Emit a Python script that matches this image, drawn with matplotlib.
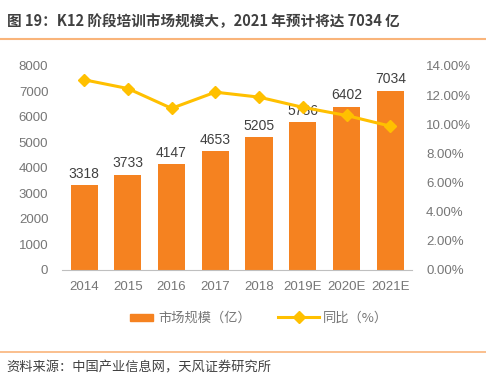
import matplotlib
matplotlib.use("Agg")
import matplotlib.pyplot as plt
from matplotlib.lines import Line2D

plt.rcParams['font.family'] = ['Liberation Sans', 'Noto Sans CJK SC', 'DejaVu Sans']

years = ["2014", "2015", "2016", "2017", "2018", "2019E", "2020E", "2021E"]
market = [3318, 3733, 4147, 4653, 5205, 5786, 6402, 7034]
growth = [13.05, 12.45, 11.09, 12.20, 11.86, 11.16, 10.60, 9.87]
left_ticks = [0, 1000, 2000, 3000, 4000, 5000, 6000, 7000, 8000]
right_ticks = [0, 2, 4, 6, 8, 10, 12, 14]

title = "图 19：K12 阶段培训市场规模大，2021 年预计将达 7034 亿"
source = "资料来源：中国产业信息网，天风证券研究所"
bar_label = "市场规模（亿）"
line_label = "同比（%）"

bar_color = "#F58220"
line_color = "#FFC000"
txt = "#767676"
sep = "#F9B47A"

fig = plt.figure(figsize=(4.86, 3.8), dpi=100)
ax = fig.add_axes([0.128, 0.2895, 0.72, 0.537])
x = list(range(len(years)))
ax.bar(x, market, width=0.62, color=bar_color, zorder=2)
for xi, v in zip(x, market):
    ax.text(xi, v + 180, str(v), ha='center', va='bottom', fontsize=10, color="#404040")
ax.set_ylim(0, 8000)
ax.set_yticks(left_ticks)
ax.set_yticklabels([str(t) for t in left_ticks])
ax.set_xlim(-0.5, len(years) - 0.5)
ax.set_xticks(x)
ax.set_xticklabels(years)
for s in ['top', 'right', 'left']:
    ax.spines[s].set_visible(False)
ax.spines['bottom'].set_color("#BFBFBF")
ax.tick_params(axis='both', length=0, colors=txt, labelsize=9.5)
ax.tick_params(axis='y', pad=10)
ax.tick_params(axis='x', pad=8)

ax2 = ax.twinx()
ax2.plot(x, growth, color=line_color, lw=2.2, marker='D', ms=6.5, zorder=3)
ax2.set_ylim(0, 14)
ax2.set_yticks(right_ticks)
ax2.set_yticklabels([f"{t:.2f}%" for t in right_ticks])
for s in ['top', 'right', 'left', 'bottom']:
    ax2.spines[s].set_visible(False)
ax2.tick_params(axis='y', length=0, colors=txt, labelsize=9.5, pad=10)

leg1 = fig.legend([plt.Rectangle((0, 0), 1, 1, color=bar_color)], [bar_label],
                  loc='center left', bbox_to_anchor=(0.268, 0.162), frameon=False,
                  fontsize=9.5, handlelength=1.7, handleheight=0.45, handletextpad=0.4,
                  borderpad=0, borderaxespad=0)
leg2 = fig.legend([Line2D([0], [0], color=line_color, lw=2.2, marker='D', ms=6)], [line_label],
                  loc='center left', bbox_to_anchor=(0.573, 0.162), frameon=False,
                  fontsize=9.5, handlelength=3.1, handletextpad=0.3,
                  borderpad=0, borderaxespad=0)
for leg in (leg1, leg2):
    for t in leg.get_texts():
        t.set_color(txt)
        t.set_fontfamily(['Noto Sans CJK SC'])

fig.text(0.014, 0.945, title, fontsize=10.5, fontweight='bold', color="#404040",
         ha='left', va='center', family=['Noto Sans CJK SC', 'DejaVu Sans'])
fig.add_artist(Line2D([0, 1], [0.897, 0.897], color=sep, lw=1.5, transform=fig.transFigure))
fig.add_artist(Line2D([0, 1], [0.074, 0.074], color=sep, lw=1.2, transform=fig.transFigure))
fig.text(0.014, 0.032, source, fontsize=9.5, color="#404040", ha='left', va='center',
         family=['Noto Sans CJK SC', 'DejaVu Sans'])

fig.savefig("out.png", dpi=100)
